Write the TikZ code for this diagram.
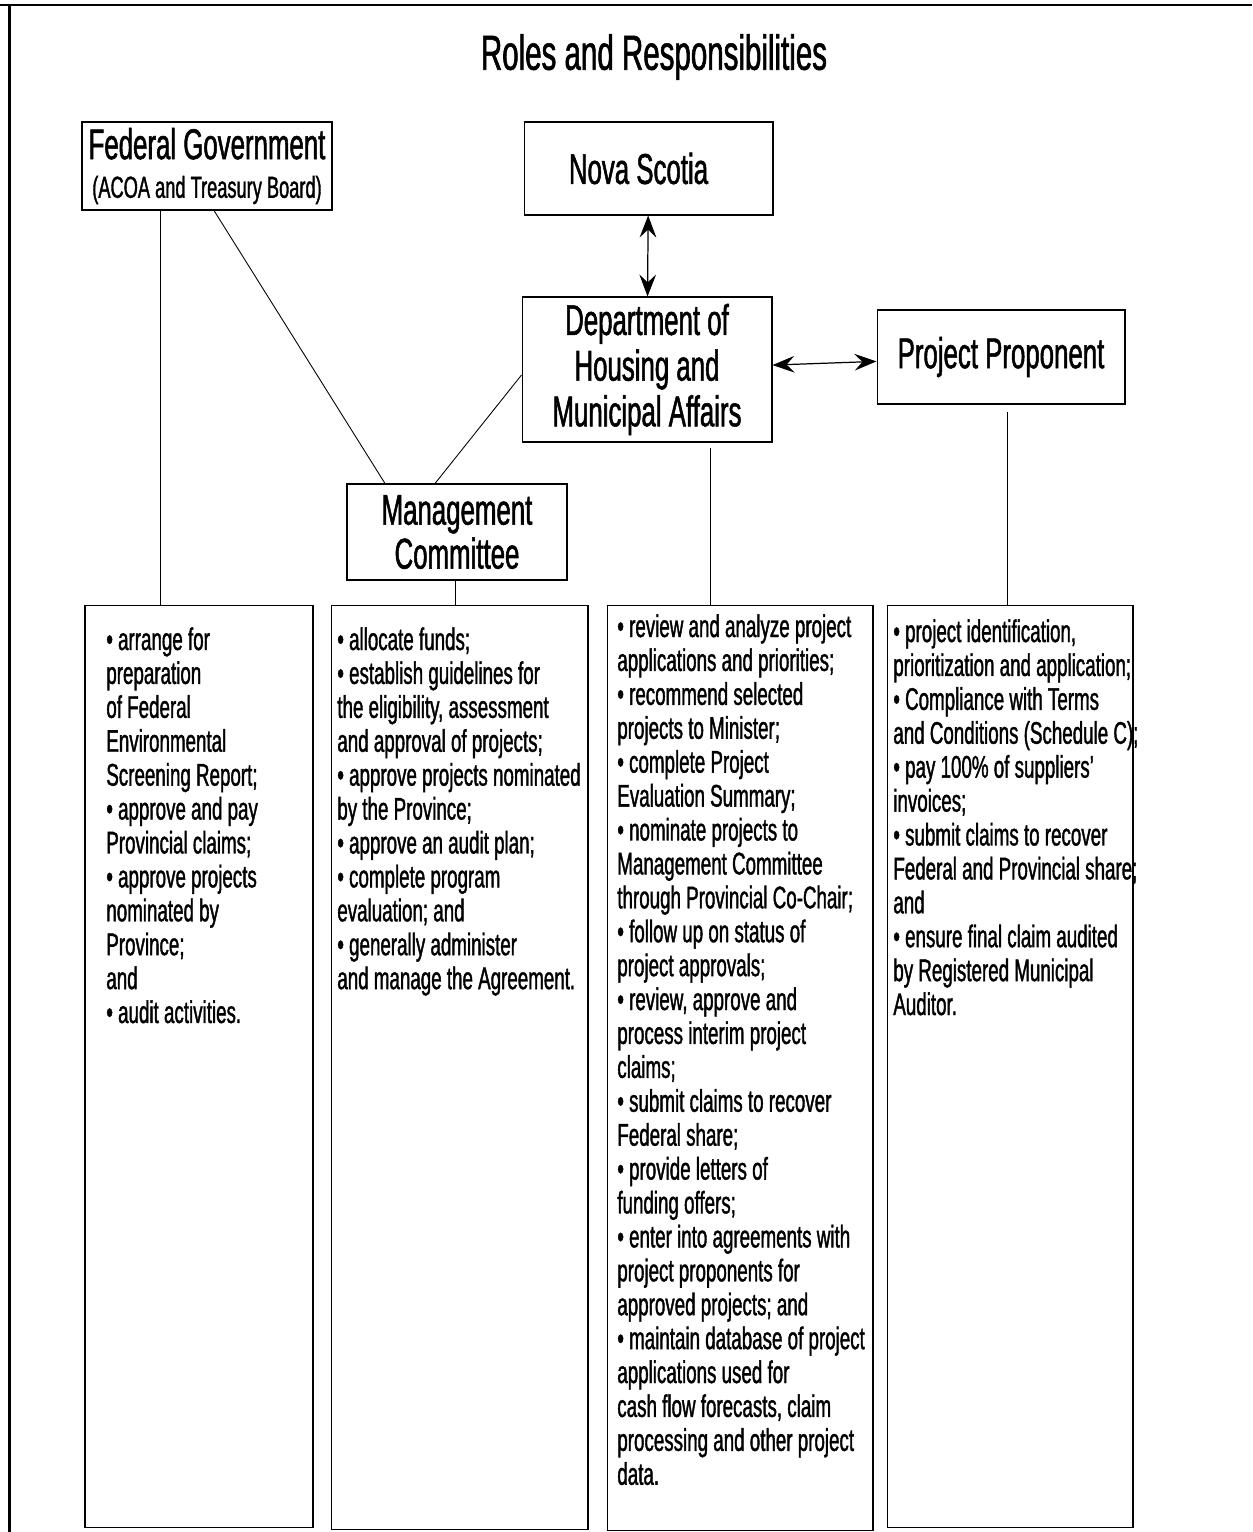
\documentclass[tikz,border=0pt]{standalone}
\usepackage{fontspec}
\setmainfont{Liberation Sans}[FakeStretch=0.6, FakeBold=1.2]
\usetikzlibrary{arrows.meta}

\tikzset{
    head/.style={draw, line width=0.6pt, align=center, inner sep=2pt,
        font=\fontsize{24.5}{28}\selectfont},
    colbox/.style={draw, line width=0.6pt, inner sep=0pt},
    coltext/.style={anchor=north west, align=left, inner sep=0pt,
        font=\fontsize{17.8}{19.3}\selectfont},
    link/.style={line width=0.5pt},
    twoway/.style={{Stealth[length=12.5pt,width=9.5pt,inset=4.5pt]}-{Stealth[length=12.5pt,width=9.5pt,inset=4.5pt]}, line width=0.7pt}
}

\begin{document}
\begin{tikzpicture}[x=0.02cm, y=-0.02cm]
    \useasboundingbox (0,0) rectangle (1252,1532);

    % Frame
    \draw[line width=1.7pt] (0,5) -- (1252,5);
    \draw[line width=1.7pt] (9.5,5) -- (9.5,1532);

    % Title
    \node[font=\fontsize{28}{32}\selectfont] (title) at (654,57) {Roles and Responsibilities};

    % Bodies
    \node[head, minimum width=5cm, minimum height=1.76cm] (fed) at (207,166)
        {Federal Government\\[-6pt]{\fontsize{17.3}{19}\selectfont (ACOA and Treasury Board)}};
    \node[head, minimum width=4.98cm, minimum height=1.86cm] (ns) at (648.5,168.5)
        {\hspace*{-0.4cm}Nova Scotia};
    \node[head, minimum width=5cm, minimum height=2.9cm, font=\fontsize{24.5}{26}\selectfont] (dhma) at (647,369.5)
        {Department of\\Housing and\\Municipal Affairs};
    \node[head, minimum width=4.96cm, minimum height=1.88cm] (prop) at (1001,357) {Project Proponent};
    \node[head, minimum width=4.4cm, minimum height=1.92cm, font=\fontsize{24.5}{25}\selectfont] (mgmt) at (457,532)
        {Management\\Committee};

    % Columns
    \node[colbox, minimum width=4.56cm, minimum height=18.46cm] (fedbox) at (199,1066.5) {};
    \node[colbox, minimum width=5.14cm, minimum height=18.5cm] (mgmtbox) at (459.5,1067.5) {};
    \node[colbox, minimum width=5.32cm, minimum height=18.52cm] (dhmabox) at (740,1068) {};
    \node[colbox, minimum width=4.92cm, minimum height=18.46cm] (propbox) at (1010,1066.5) {};

    % Links
    \draw[twoway] (ns) -- (dhma);
    \draw[twoway] (dhma) -- (prop);
    \draw[link] ([xshift=0.14cm]fed.south) -- ([xshift=-1.44cm]mgmt.north);
    \draw[link] ([yshift=-0.11cm]dhma.west) -- ([xshift=-0.44cm]mgmt.north);
    \draw[link] ([xshift=-0.94cm]fed.south) -- ([xshift=-0.94cm]fed.south |- fedbox.north);
    \draw[link] ([xshift=-0.04cm]mgmt.south) -- ([xshift=-0.04cm]mgmt.south |- mgmtbox.north);
    \draw[link, shorten <=3pt] ([xshift=1.26cm]dhma.south) -- ([xshift=1.26cm]dhma.south |- dhmabox.north);
    \draw[link, shorten <=4pt] ([xshift=0.12cm]prop.south) -- ([xshift=0.12cm]prop.south |- propbox.north);

    % Duties
    \node[coltext] (fedtext) at (106,627) {%
        • arrange for\\
        preparation\\
        of Federal\\
        Environmental\\
        Screening Report;\\
        • approve and pay\\
        Provincial claims;\\
        • approve projects\\
        nominated by\\
        Province;\\
        and\\
        • audit activities.};
    \node[coltext] (mgmttext) at (337,627) {%
        • allocate funds;\\
        • establish guidelines for\\
        the eligibility, assessment\\
        and approval of projects;\\
        • approve projects nominated\\
        by the Province;\\
        • approve an audit plan;\\
        • complete program\\
        evaluation; and\\
        • generally administer\\
        and manage the Agreement.};
    \node[coltext] (dhmatext) at (617,614) {%
        • review and analyze project\\
        applications and priorities;\\
        • recommend selected\\
        projects to Minister;\\
        • complete Project\\
        Evaluation Summary;\\
        • nominate projects to\\
        Management Committee\\
        through Provincial Co-Chair;\\
        • follow up on status of\\
        project approvals;\\
        • review, approve and\\
        process interim project\\
        claims;\\
        • submit claims to recover\\
        Federal share;\\
        • provide letters of\\
        funding offers;\\
        • enter into agreements with\\
        project proponents for\\
        approved projects; and\\
        • maintain database of project\\
        applications used for\\
        cash flow forecasts, claim\\
        processing and other project\\
        data.};
    \node[coltext] (proptext) at (893,619) {%
        • project identification,\\
        prioritization and application;\\
        • Compliance with Terms\\
        and Conditions (Schedule C);\\
        • pay 100\% of suppliers’\\
        invoices;\\
        • submit claims to recover\\
        Federal and Provincial share;\\
        and\\
        • ensure final claim audited\\
        by Registered Municipal\\
        Auditor.};
\end{tikzpicture}
\end{document}
